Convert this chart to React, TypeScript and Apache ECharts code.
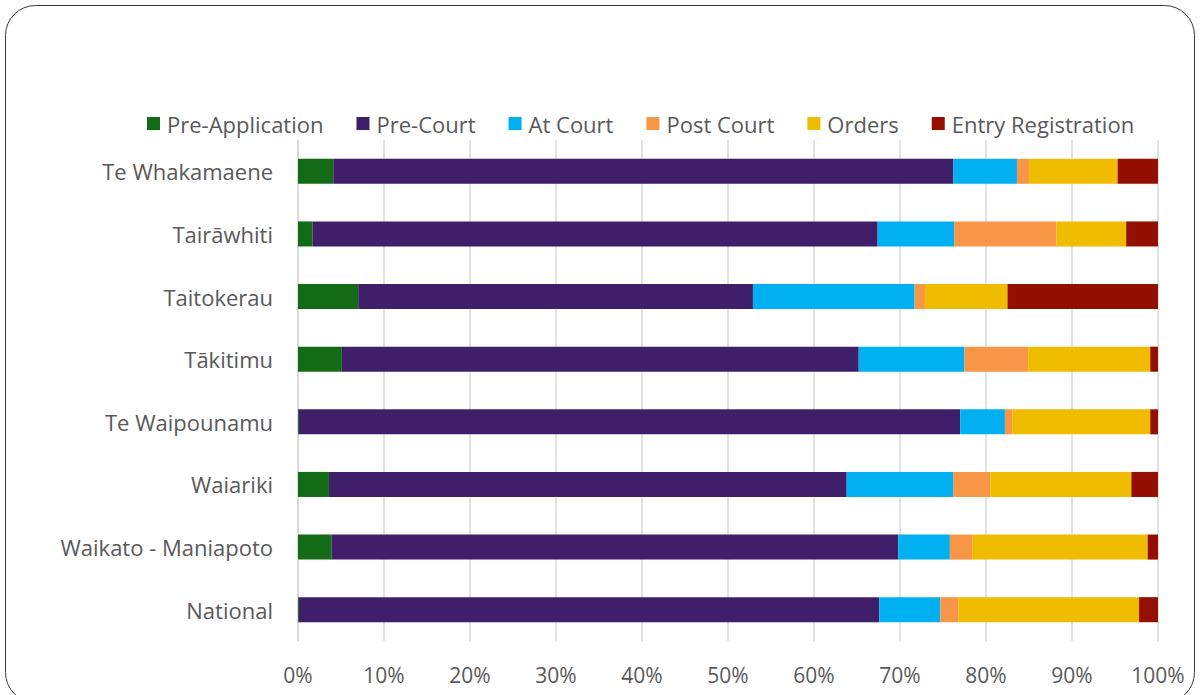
import React, { useEffect, useRef } from "react";
import * as echarts from "echarts";

const categories = [
  "Te Whakamaene",
  "Tairāwhiti",
  "Taitokerau",
  "Tākitimu",
  "Te Waipounamu",
  "Waiariki",
  "Waikato - Maniapoto",
  "National",
];

const seriesNames = [
  "Pre-Application",
  "Pre-Court",
  "At Court",
  "Post Court",
  "Orders",
  "Entry Registration",
];

const preApplication = [4.1, 1.7, 7.0, 5.1, 0.1, 3.6, 3.9, 0.1];
const preCourt = [72.1, 65.7, 45.9, 60.1, 76.9, 60.2, 65.9, 67.5];
const atCourt = [7.4, 8.9, 18.8, 12.3, 5.2, 12.4, 6.0, 7.1];
const postCourt = [1.4, 11.9, 1.2, 7.4, 0.9, 4.3, 2.6, 2.1];
const orders = [10.3, 8.1, 9.6, 14.2, 16.0, 16.4, 20.4, 21.0];
const entryRegistration = [4.7, 3.7, 17.5, 0.9, 0.9, 3.1, 1.2, 2.2];

const seriesData = [preApplication, preCourt, atCourt, postCourt, orders, entryRegistration];
const colors = ["#136b16", "#3f1f69", "#00b0f0", "#f79646", "#efbc00", "#950f00"];
const xTicks = [0, 10, 20, 30, 40, 50, 60, 70, 80, 90, 100];

export default function App() {
  const ref = useRef<HTMLDivElement>(null);
  useEffect(() => {
    document.body.style.margin = "0";
    const chart = echarts.init(ref.current!, null, { renderer: "svg" });
    const font = "'Open Sans', 'Noto Sans', sans-serif";
    chart.setOption({
      animation: false,
      backgroundColor: "#ffffff",
      textStyle: { fontFamily: font },
      graphic: [
        {
          type: "rect",
          shape: { x: 5.5, y: 5.5, width: 1189, height: 697, r: 30 },
          style: { fill: "none", stroke: "#3a3a3a", lineWidth: 1 },
          silent: true,
        },
      ],
      legend: {
        left: 147,
        top: 111,
        padding: 0,
        itemWidth: 13,
        itemHeight: 13,
        itemGap: 33,
        icon: "rect",
        textStyle: { fontSize: 22, lineHeight: 25, color: "#595959", fontFamily: font, padding: [0, 0, 0, 2] },
        data: seriesNames,
      },
      grid: { left: 298, right: 42, top: 140, bottom: 54, containLabel: false },
      xAxis: {
        type: "value",
        min: 0,
        max: 100,
        interval: 10,
        axisLine: { show: false },
        axisTick: { show: false },
        splitLine: { show: true, lineStyle: { color: "#d9d9d9", width: 1.5 } },
        axisLabel: {
          formatter: (v: number) => (xTicks.includes(v) ? v + "%" : ""),
          fontSize: 21,
          color: "#595959",
          margin: 23,
          fontFamily: font,
        },
      },
      yAxis: {
        type: "category",
        inverse: true,
        data: categories,
        axisLine: { show: true, lineStyle: { color: "#d9d9d9", width: 1.5 } },
        axisTick: { show: false },
        axisLabel: { fontSize: 22, color: "#595959", margin: 25, fontFamily: font },
      },
      series: seriesNames.map((name, i) => ({
        name,
        type: "bar",
        stack: "total",
        barCategoryGap: "60%",
        itemStyle: { color: colors[i] },
        emphasis: { disabled: true },
        data: seriesData[i],
      })),
    });
    return () => chart.dispose();
  }, []);
  return (
    <div
      ref={ref}
      style={{ position: "fixed", left: 0, top: 0, width: 1200, height: 695 }}
    />
  );
}
